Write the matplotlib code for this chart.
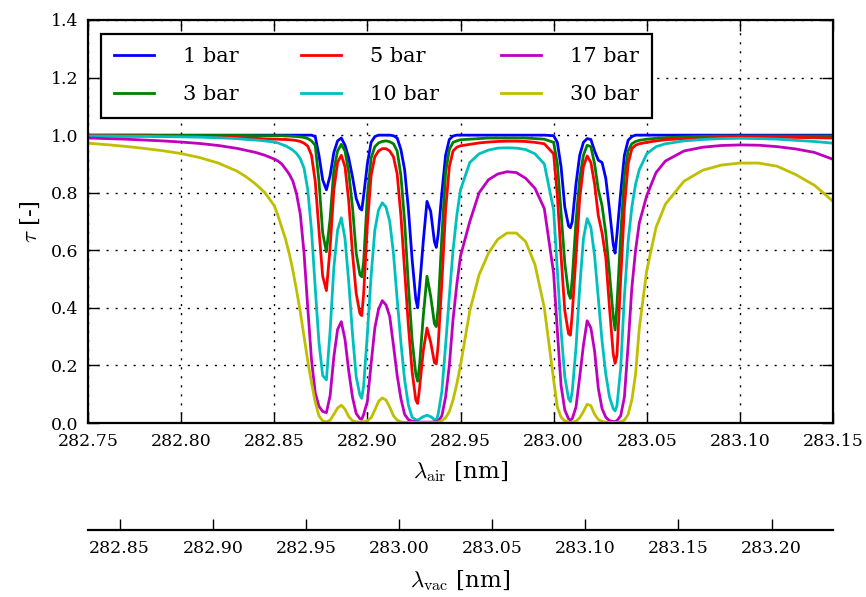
import matplotlib
matplotlib.use('Agg')
import matplotlib.pyplot as plt
from matplotlib.ticker import FormatStrFormatter

plt.rcParams['font.family'] = ['DejaVu Serif']
plt.rcParams['mathtext.fontset'] = 'cm'

# air wavelength [nm]
wl = [
    282.750, 282.760, 282.770, 282.780, 282.790, 282.800, 282.810, 282.820, 282.830, 282.835, 282.840, 282.845,
    282.850, 282.852, 282.854, 282.856, 282.858, 282.860, 282.862, 282.864, 282.866, 282.868,
    282.870, 282.872, 282.874, 282.876, 282.878, 282.880, 282.882, 282.884, 282.886, 282.888,
    282.890, 282.892, 282.894, 282.896, 282.897, 282.898, 282.900, 282.902, 282.904, 282.906,
    282.908, 282.910, 282.912, 282.914, 282.916, 282.918, 282.920, 282.922, 282.924, 282.926,
    282.927, 282.928, 282.930, 282.932, 282.934, 282.936, 282.937, 282.938, 282.940, 282.942,
    282.944, 282.946, 282.948, 282.950,
    282.955, 282.960, 282.965, 282.970, 282.975, 282.980, 282.985, 282.990, 282.995,
    283.000, 283.002, 283.004, 283.006, 283.008, 283.009, 283.010, 283.012, 283.014, 283.016,
    283.018, 283.020, 283.022, 283.024, 283.026, 283.028, 283.030, 283.032, 283.033, 283.034,
    283.036, 283.038, 283.040, 283.042, 283.044, 283.046,
    283.050, 283.055, 283.060, 283.070, 283.080, 283.090, 283.100, 283.110, 283.120, 283.130, 283.140, 283.150,
]

# transmission for each pressure
tau_1bar = [
    1.0, 1.0, 1.0, 1.0, 1.0, 1.0, 1.0, 1.0, 1.0, 1.0, 1.0, 1.0,
    1.0, 1.0, 1.0, 1.0, 1.0, 1.0, 1.0, 1.0, 1.0, 1.0,
    1.0, 0.995, 0.93, 0.845, 0.81, 0.86, 0.94, 0.98, 0.99, 0.965,
    0.92, 0.855, 0.78, 0.745, 0.74, 0.79, 0.90, 0.975, 0.995, 1.0,
    1.0, 1.0, 1.0, 0.998, 0.99, 0.95, 0.88, 0.745, 0.57, 0.43,
    0.40, 0.47, 0.63, 0.77, 0.735, 0.63, 0.61, 0.655, 0.80, 0.93,
    0.985, 0.997, 1.0, 1.0,
    1.0, 1.0, 1.0, 1.0, 1.0, 1.0, 1.0, 1.0, 1.0,
    0.998, 0.975, 0.89, 0.75, 0.685, 0.678, 0.70, 0.83, 0.93, 0.975,
    0.988, 0.985, 0.945, 0.913, 0.905, 0.85, 0.74, 0.62, 0.59, 0.655,
    0.80, 0.93, 0.982, 0.995, 1.0, 1.0,
    1.0, 1.0, 1.0, 1.0, 1.0, 1.0, 1.0, 1.0, 1.0, 1.0, 1.0, 1.0,
]
tau_3bar = [
    1.0, 1.0, 1.0, 1.0, 0.999, 0.999, 0.999, 0.999, 0.999, 0.999, 0.998, 0.998,
    0.998, 0.998, 0.998, 0.997, 0.997, 0.996, 0.995, 0.994, 0.992, 0.988,
    0.98, 0.965, 0.84, 0.66, 0.595, 0.71, 0.88, 0.945, 0.968, 0.945,
    0.87, 0.75, 0.59, 0.515, 0.508, 0.56, 0.79, 0.92, 0.96, 0.973,
    0.978, 0.98, 0.977, 0.97, 0.945, 0.86, 0.70, 0.48, 0.29, 0.17,
    0.145, 0.20, 0.37, 0.51, 0.44, 0.345, 0.335, 0.40, 0.65, 0.87,
    0.95, 0.975, 0.98, 0.984,
    0.986, 0.988, 0.99, 0.99, 0.99, 0.99, 0.99, 0.988, 0.986,
    0.975, 0.90, 0.73, 0.555, 0.45, 0.433, 0.50, 0.70, 0.85, 0.93,
    0.965, 0.96, 0.90, 0.81, 0.755, 0.66, 0.52, 0.37, 0.323, 0.41,
    0.65, 0.86, 0.945, 0.97, 0.978, 0.982,
    0.986, 0.989, 0.991, 0.994, 0.996, 0.997, 0.997, 0.997, 0.997, 0.997, 0.997, 0.997,
]
tau_5bar = [
    0.998, 0.998, 0.997, 0.997, 0.996, 0.996, 0.995, 0.994, 0.992, 0.99, 0.989, 0.987,
    0.986, 0.986, 0.985, 0.985, 0.984, 0.983, 0.981, 0.978, 0.972, 0.962,
    0.93, 0.84, 0.67, 0.51, 0.46, 0.61, 0.81, 0.905, 0.93, 0.89,
    0.77, 0.59, 0.45, 0.38, 0.373, 0.45, 0.69, 0.86, 0.925, 0.945,
    0.953, 0.953, 0.945, 0.925, 0.865, 0.72, 0.53, 0.34, 0.18, 0.08,
    0.068, 0.12, 0.25, 0.33, 0.28, 0.21, 0.205, 0.27, 0.49, 0.74,
    0.89, 0.945, 0.958, 0.963,
    0.968, 0.973, 0.976, 0.978, 0.979, 0.979, 0.978, 0.975, 0.97,
    0.935, 0.79, 0.58, 0.39, 0.31, 0.305, 0.38, 0.58, 0.78, 0.89,
    0.928, 0.905, 0.83, 0.72, 0.66, 0.575, 0.40, 0.24, 0.207, 0.235,
    0.50, 0.75, 0.90, 0.953, 0.965, 0.97,
    0.975, 0.98, 0.984, 0.988, 0.99, 0.992, 0.993, 0.993, 0.993, 0.992, 0.991, 0.99,
]
tau_10bar = [
    0.997, 0.997, 0.996, 0.996, 0.995, 0.994, 0.993, 0.991, 0.988, 0.985, 0.983, 0.98,
    0.976, 0.973, 0.968, 0.963, 0.956, 0.948, 0.936, 0.918, 0.885, 0.81,
    0.67, 0.47, 0.28, 0.165, 0.15, 0.32, 0.54, 0.67, 0.713, 0.64,
    0.49, 0.31, 0.16, 0.097, 0.086, 0.13, 0.31, 0.51, 0.67, 0.74,
    0.765, 0.75, 0.70, 0.59, 0.43, 0.28, 0.15, 0.063, 0.02, 0.011,
    0.01, 0.014, 0.022, 0.027, 0.022, 0.012, 0.01, 0.03, 0.11, 0.27,
    0.44, 0.60, 0.72, 0.81,
    0.905, 0.935, 0.948, 0.955, 0.956, 0.955, 0.95, 0.935, 0.90,
    0.74, 0.53, 0.32, 0.16, 0.085, 0.074, 0.11, 0.26, 0.47, 0.64,
    0.71, 0.68, 0.58, 0.433, 0.285, 0.17, 0.09, 0.05, 0.042, 0.06,
    0.19, 0.44, 0.63, 0.75, 0.83, 0.88,
    0.935, 0.96, 0.97, 0.98, 0.985, 0.988, 0.989, 0.988, 0.986, 0.982, 0.978, 0.972,
]
tau_17bar = [
    0.99, 0.988, 0.986, 0.983, 0.98, 0.976, 0.971, 0.964, 0.954, 0.947, 0.94, 0.93,
    0.917, 0.91, 0.90, 0.883, 0.865, 0.84, 0.795, 0.725, 0.59, 0.40,
    0.22, 0.105, 0.058, 0.04, 0.036, 0.095, 0.23, 0.325, 0.352, 0.29,
    0.18, 0.09, 0.033, 0.015, 0.013, 0.03, 0.075, 0.205, 0.33, 0.395,
    0.425, 0.41, 0.37, 0.27, 0.165, 0.085, 0.03, 0.012, 0.006, 0.004,
    0.003, 0.003, 0.003, 0.003, 0.003, 0.004, 0.004, 0.006, 0.025, 0.09,
    0.20, 0.36, 0.48, 0.58,
    0.70, 0.80, 0.845, 0.865, 0.873, 0.87, 0.85, 0.815, 0.745,
    0.52, 0.32, 0.13, 0.045, 0.015, 0.01, 0.015, 0.055, 0.16, 0.27,
    0.355, 0.33, 0.25, 0.12, 0.05, 0.02, 0.008, 0.005, 0.005, 0.008,
    0.025, 0.09, 0.27, 0.47, 0.60, 0.695,
    0.79, 0.87, 0.91, 0.945, 0.958, 0.964, 0.966, 0.965, 0.96, 0.952, 0.94, 0.916,
]
tau_30bar = [
    0.972, 0.967, 0.961, 0.954, 0.946, 0.936, 0.922, 0.903, 0.875, 0.855, 0.83, 0.80,
    0.755, 0.72, 0.68, 0.64, 0.59, 0.53, 0.46, 0.385, 0.30, 0.215,
    0.14, 0.072, 0.025, 0.007, 0.004, 0.01, 0.03, 0.052, 0.062, 0.048,
    0.022, 0.008, 0.004, 0.003, 0.003, 0.004, 0.008, 0.018, 0.045, 0.075,
    0.087, 0.08, 0.055, 0.025, 0.01, 0.004, 0.002, 0.002, 0.002, 0.002,
    0.002, 0.002, 0.002, 0.002, 0.002, 0.002, 0.002, 0.003, 0.008, 0.018,
    0.04, 0.08, 0.135, 0.20,
    0.39, 0.515, 0.59, 0.638, 0.66, 0.66, 0.63, 0.55, 0.40,
    0.15, 0.055, 0.02, 0.007, 0.003, 0.002, 0.003, 0.006, 0.018, 0.04,
    0.065, 0.06, 0.03, 0.012, 0.005, 0.003, 0.002, 0.002, 0.002, 0.002,
    0.004, 0.01, 0.03, 0.08, 0.17, 0.33,
    0.53, 0.68, 0.76, 0.84, 0.878, 0.896, 0.903, 0.903, 0.892, 0.863, 0.826, 0.77,
]

series = [tau_1bar, tau_3bar, tau_5bar, tau_10bar, tau_17bar, tau_30bar]
labels = ['1 bar', '3 bar', '5 bar', '10 bar', '17 bar', '30 bar']
colors = ['b', 'g', 'r', 'c', 'm', 'y']

air_ticks = [282.75, 282.80, 282.85, 282.90, 282.95, 283.00, 283.05, 283.10, 283.15]
vac_ticks = [282.85, 282.90, 282.95, 283.00, 283.05, 283.10, 283.15, 283.20]
y_ticks = [0.0, 0.2, 0.4, 0.6, 0.8, 1.0, 1.2, 1.4]
vac_shift = 0.083  # air -> vacuum offset

fig = plt.figure(figsize=(8.66, 5.97), dpi=100)
ax = fig.add_axes([88 / 866, 1 - 423 / 597, 745 / 866, 403 / 597])

for tau, lab, col in zip(series, labels, colors):
    ax.plot(wl, tau, color=col, lw=2, label=lab)

ax.set_xlim(282.75, 283.15)
ax.set_ylim(0, 1.4)
ax.set_xticks(air_ticks)
ax.set_yticks(y_ticks)
ax.xaxis.set_major_formatter(FormatStrFormatter('%.2f'))
ax.yaxis.set_major_formatter(FormatStrFormatter('%.1f'))
ax.grid(True, color='k', linestyle=(0, (1.5, 5)), linewidth=1)
ax.set_xlabel(r'$\lambda_{\mathrm{air}}$ [nm]', fontsize=16.5, labelpad=7)
ax.set_ylabel(r'$\tau$ [-]', fontsize=16.5, labelpad=6)
for s in ax.spines.values():
    s.set_linewidth(1.6)

leg = ax.legend(ncol=3, loc='upper left', bbox_to_anchor=(13 / 745, 1 - 14 / 403),
                borderaxespad=0, fontsize=15, handlelength=1.9, handletextpad=1.4,
                columnspacing=3.0, labelspacing=0.93, borderpad=0.63,
                fancybox=False, framealpha=1)
leg.get_frame().set_edgecolor('k')
leg.get_frame().set_linewidth(1.6)

# vacuum wavelength axis below
ax2 = ax.twiny()
ax2.set_xlim(282.75 + vac_shift, 283.15 + vac_shift)
ax2.set_xticks(vac_ticks)
ax2.xaxis.set_major_formatter(FormatStrFormatter('%.2f'))
ax2.xaxis.set_ticks_position('bottom')
ax2.xaxis.set_label_position('bottom')
ax2.spines['bottom'].set_position(('outward', 77))
ax2.spines['bottom'].set_visible(True)
ax2.spines['bottom'].set_linewidth(1.6)
for side in ['top', 'left', 'right']:
    ax2.spines[side].set_visible(False)
ax2.tick_params(axis='x', direction='in', length=8, width=1, labelsize=12.5, pad=7)
ax2.set_xlabel(r'$\lambda_{\mathrm{vac}}$ [nm]', fontsize=16.5, labelpad=8)

ax.tick_params(axis='both', direction='in', length=8, width=1, labelsize=12.5, pad=7,
               top=True, bottom=True, left=True, right=True)

fig.savefig('out.png', dpi=100)
